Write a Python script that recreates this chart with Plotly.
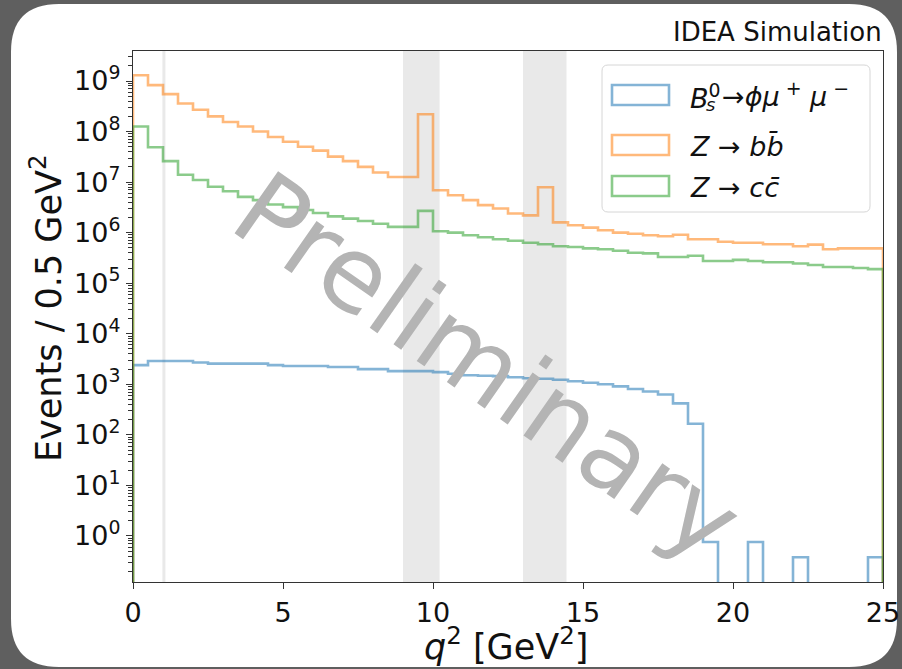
import numpy as np
import plotly.graph_objects as go

# ---------------- data ----------------
bin_edges = [i * 0.5 for i in range(51)]  # q^2 bins of 0.5 GeV^2, 0..25

bs_phimumu = [2400, 2900, 2900, 2900, 2700, 2570, 2570, 2570, 2570, 2400,
              2300, 2300, 2300, 2200, 2200, 2000, 2000, 1820, 1820, 1820,
              1740, 1620, 1510, 1480, 1450, 1380, 1320, 1290, 1230, 1150,
              1070, 1000, 910, 810, 720, 630, 420, 166, 0.76, 0,
              0, 0.76, 0, 0, 0.38, 0, 0, 0, 0, 0.38]

z_bb = [1.3e9, 8.3e8, 5.5e8, 3.6e8, 2.7e8, 2.0e8, 1.55e8, 1.26e8, 1.0e8, 7.8e7,
        6.3e7, 5.0e7, 4.2e7, 3.2e7, 2.6e7, 2.0e7, 1.55e7, 1.26e7, 1.26e7, 2.2e8,
        6.9e6, 5.5e6, 4.4e6, 3.5e6, 3.0e6, 2.4e6, 2.2e6, 7.9e6, 1.6e6, 1.4e6,
        1.26e6, 1.12e6, 1.0e6, 9.5e5, 8.9e5, 8.5e5, 9.1e5, 7.4e5, 7.4e5, 6.6e5,
        6.3e5, 6.3e5, 5.9e5, 5.9e5, 5.4e5, 5.8e5, 4.7e5, 4.9e5, 4.9e5, 4.9e5]

z_cc = [1.26e8, 4.9e7, 2.6e7, 1.4e7, 1.1e7, 8.1e6, 6.6e6, 5.1e6, 4.4e6, 3.6e6,
        3.2e6, 2.8e6, 2.45e6, 2.1e6, 1.9e6, 1.7e6, 1.5e6, 1.3e6, 1.3e6, 2.7e6,
        1.07e6, 1.0e6, 8.9e5, 8.1e5, 7.4e5, 6.9e5, 6.3e5, 5.9e5, 5.4e5, 5.2e5,
        4.9e5, 4.7e5, 4.4e5, 4.0e5, 3.9e5, 3.3e5, 3.3e5, 3.5e5, 2.75e5, 2.75e5,
        2.9e5, 2.75e5, 2.6e5, 2.6e5, 2.45e5, 2.3e5, 2.1e5, 2.1e5, 2.0e5, 1.9e5]

veto_bands = [(0.98, 1.08), (9.0, 10.22), (13.0, 14.45)]

x_ticks = [0, 5, 10, 15, 20, 25]
y_exponents = list(range(0, 10))

series_names = ["B_s^0 -> phi mu mu", "Z -> bb", "Z -> cc"]
colors = ["rgba(31,119,180,0.55)", "rgba(255,127,14,0.55)", "rgba(44,160,44,0.55)"]

# ---------------- figure ----------------
W, H = 902, 669
L, R, T, B = 133, 883, 51, 582
floor = 1e-3


def px(X):
    return (X - L) / (R - L)


def py(Y):
    return (B - Y) / (B - T)


def step_xy(vals):
    v = [val if val > 0 else floor for val in vals]
    xs = [bin_edges[0]] + bin_edges[:-1] + [bin_edges[-1], bin_edges[-1]]
    ys = [floor] + v + [v[-1], floor]
    return xs, ys


fig = go.Figure()
for vals, name, col in zip([bs_phimumu, z_bb, z_cc], series_names, colors):
    xs, ys = step_xy(vals)
    fig.add_trace(go.Scatter(x=xs, y=ys, mode="lines", name=name,
                             line=dict(color=col, width=2.6, shape="hv"),
                             showlegend=False, hoverinfo="skip"))


def rounded_path(x0, y0, x1, y1, rpx):
    rx = rpx / (R - L)
    ry = rpx / (B - T)
    l, r_, b, t = px(x0), px(x1), py(y1), py(y0)
    return (f"M {l+rx},{b} L {r_-rx},{b} Q {r_},{b} {r_},{b+ry} "
            f"L {r_},{t-ry} Q {r_},{t} {r_-rx},{t} L {l+rx},{t} "
            f"Q {l},{t} {l},{t-ry} L {l},{b+ry} Q {l},{b} {l+rx},{b} Z")


shapes = [dict(type="path", xref="paper", yref="paper",
               path=rounded_path(11, 4, 897, 667, 48),
               fillcolor="white", line=dict(width=0), layer="below")]
for a, b in veto_bands:
    shapes.append(dict(type="rect", xref="x", yref="paper", x0=a, x1=b, y0=0, y1=1,
                       fillcolor="#e9e9e9", line=dict(width=0), layer="below"))

# legend box
shapes.append(dict(type="path", xref="paper", yref="paper",
                   path=rounded_path(602, 65, 870, 212, 6),
                   fillcolor="rgba(255,255,255,0.85)",
                   line=dict(color="#d6d6d6", width=1), layer="above"))
patch_rows = [(85, 105), (135, 155), (176, 196)]
for (y0, y1), col in zip(patch_rows, colors):
    shapes.append(dict(type="rect", xref="paper", yref="paper",
                       x0=px(612), x1=px(669), y0=py(y1), y1=py(y0),
                       fillcolor="rgba(0,0,0,0)", line=dict(color=col, width=2.6),
                       layer="above"))

font = "DejaVu Sans"
ann = []
leg_font = dict(family=font, size=27, color="#111")
ann.append(dict(xref="paper", yref="paper", x=px(688), y=py(96), xanchor="left",
                yanchor="middle", showarrow=False, font=leg_font,
                text="<i>B</i><sup>0</sup>"))
ann.append(dict(xref="paper", yref="paper", x=px(704), y=py(104), xanchor="left",
                yanchor="middle", showarrow=False,
                font=dict(family=font, size=18, color="#111"), text="<i>s</i>"))
ann.append(dict(xref="paper", yref="paper", x=px(720), y=py(95), xanchor="left",
                yanchor="middle", showarrow=False, font=leg_font,
                text="→<i>ϕμ</i><sup> +</sup><i> μ</i><sup> −</sup>"))
ann.append(dict(xref="paper", yref="paper", x=px(688), y=py(146), xanchor="left",
                yanchor="middle", showarrow=False, font=leg_font,
                text="<i>Z</i> → <i>bb̄</i>"))
ann.append(dict(xref="paper", yref="paper", x=px(688), y=py(187), xanchor="left",
                yanchor="middle", showarrow=False, font=leg_font,
                text="<i>Z</i> → <i>cc̄</i>"))
ann.append(dict(xref="paper", yref="paper", x=px(884), y=py(32), xanchor="right",
                yanchor="middle", showarrow=False,
                font=dict(family=font, size=26, color="#111"), text="IDEA Simulation"))
ann.append(dict(xref="paper", yref="paper", x=px(506), y=py(644), xanchor="center",
                yanchor="middle", showarrow=False,
                font=dict(family=font, size=35, color="#111"),
                text="<i>q</i><sup>2</sup> [GeV<sup>2</sup>]"))
ann.append(dict(xref="paper", yref="paper", x=px(46), y=py(308), xanchor="center",
                yanchor="middle", showarrow=False, textangle=-90,
                font=dict(family=font, size=35, color="#111"),
                text="Events / 0.5 GeV<sup>2</sup>"))
ann.append(dict(xref="paper", yref="paper", x=px(487), y=py(366), xanchor="center",
                yanchor="middle", showarrow=False, textangle=35,
                font=dict(family=font, size=104, color="#b4b4b4"),
                text="Preliminary"))

minor_vals = [m * 10.0 ** e for e in range(-1, 10) for m in range(2, 10)]

fig.update_layout(
    width=W, height=H,
    margin=dict(l=L, r=W - R, t=T, b=H - B, pad=0, autoexpand=False),
    paper_bgcolor="#5f5f5f", plot_bgcolor="white",
    shapes=shapes, annotations=ann, showlegend=False,
    xaxis=dict(range=[0, 25], tickvals=x_ticks, ticktext=[str(v) for v in x_ticks],
               automargin=False, ticklabeloverflow="allow",
               ticks="outside", ticklen=6, tickwidth=1.2, tickcolor="#333",
               showline=True, linecolor="#333", linewidth=1.3, mirror=True,
               showgrid=False, zeroline=False,
               tickfont=dict(family=font, size=27, color="#111")),
    yaxis=dict(type="log", range=[-0.911, 9.594],
               tickvals=[10.0 ** e for e in y_exponents],
               ticktext=[f"10<sup>{e}</sup>" for e in y_exponents],
               automargin=False, ticklabeloverflow="allow",
               ticks="outside", ticklen=6, tickwidth=1.2, tickcolor="#333",
               minor=dict(tickvals=minor_vals, ticks="outside", ticklen=3.5,
                          tickwidth=0.9, tickcolor="#333", showgrid=False),
               showline=True, linecolor="#333", linewidth=1.3, mirror=True,
               showgrid=False, zeroline=False,
               tickfont=dict(family=font, size=27, color="#111")),
)

fig.write_html("out.html")
